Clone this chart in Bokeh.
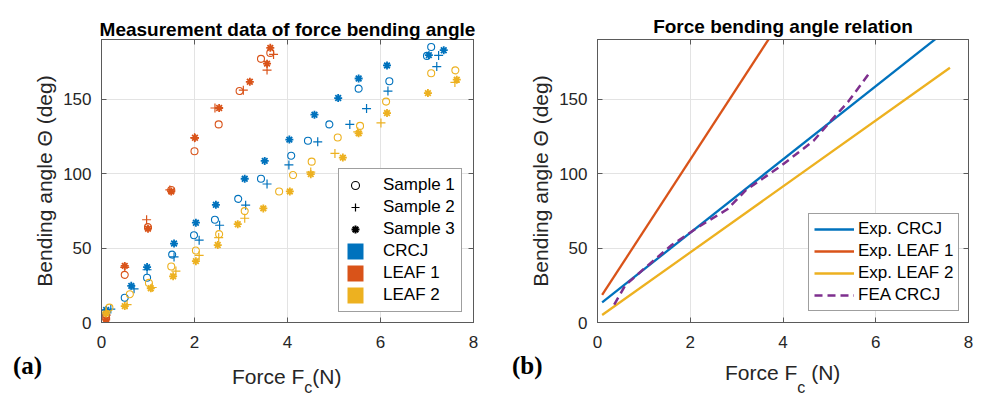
from bokeh.plotting import figure
from bokeh.models import (Range1d, FixedTicker, LinearAxis, Legend, LegendItem, Title, Div)
from bokeh.layouts import row, column
from bokeh.embed import file_html
from bokeh.resources import INLINE

NAN = float("nan")

# ---------------- data: (a) measurement data ----------------
x_ticks = [0, 2, 4, 6, 8]
y_ticks = [0, 50, 100, 150]

crcj_s1_x = [0.1, 0.5, 0.98, 1.52, 1.99, 2.44, 2.94, 3.43, 4.08, 4.44, 4.9, 5.53, 6.19, 7.0, 7.09]
crcj_s1_y = [5, 16.6, 30, 45.6, 58.6, 69, 83, 96.5, 112, 122, 133, 157, 162, 179, 185]
crcj_s2_x = [0.2, 0.7, 0.98, 1.56, 2.1, 2.54, 3.1, 3.56, 4.03, 4.65, 5.34, 5.7, 6.16, 7.21, 7.25]
crcj_s2_y = [9, 22.6, 35.4, 44, 55.3, 65.3, 78.8, 93, 105.8, 121.3, 133, 143.6, 155.4, 171.8, 179.3]
crcj_s3_x = [0.1, 0.64, 0.98, 1.56, 2.03, 2.46, 3.08, 3.51, 4.04, 4.58, 5.09, 5.53, 6.14, 7.04, 7.36]
crcj_s3_y = [8.4, 24.6, 37.2, 53, 67, 79, 96.5, 108.5, 122.8, 139.5, 150.7, 163.8, 172.6, 179.5, 182.8]

leaf1_s1_x = [0.1, 0.5, 1.0, 1.5, 2.0, 2.52, 2.97, 3.43, 3.63]
leaf1_s1_y = [3, 32, 64, 89, 115, 133, 155.4, 177, 181]
leaf1_s2_x = [0.1, 0.5, 0.97, 1.47, 2.0, 2.44, 3.05, 3.56, 3.7]
leaf1_s2_y = [5, 37, 69, 89, 124, 144, 156, 169.5, 180]
leaf1_s3_x = [0.1, 0.5, 1.0, 1.5, 2.01, 2.53, 3.19, 3.56, 3.63]
leaf1_s3_y = [2, 38, 63, 88, 124, 144, 161.6, 173.8, 184.4]

leaf2_s1_x = [0.17, 0.61, 1.02, 1.5, 2.03, 2.53, 3.08, 3.82, 4.12, 4.52, 5.08, 5.56, 6.12, 7.09, 7.61]
leaf2_s1_y = [10, 19, 26.6, 37.6, 48.3, 59.3, 74.8, 88, 99, 108, 124.2, 132, 148.3, 167.3, 169.3]
leaf2_s2_x = [0.1, 0.55, 1.09, 1.6, 2.1, 2.52, 3.08, 4.5, 5.02, 5.51, 6.01, 7.6]
leaf2_s2_y = [7, 12, 23.5, 34.5, 45, 57, 70, 101, 113.5, 128, 134, 161.2]
leaf2_s3_x = [0.1, 0.5, 1.06, 1.54, 2.03, 2.5, 2.93, 3.48, 4.05, 4.5, 5.19, 5.53, 6.14, 7.02, 7.64]
leaf2_s3_y = [6, 11, 23, 31, 41.2, 52, 66, 76.6, 88, 99.6, 110.7, 127, 140.6, 154, 163]

# ---------------- data: (b) fitted relations ----------------
exp_crcj_x = [0.1, 7.6]
exp_crcj_y = [13.5, 198]
exp_leaf1_x = [0.1, 3.75]
exp_leaf1_y = [18.5, 193]
exp_leaf2_x = [0.1, 7.6]
exp_leaf2_y = [5, 171]
fea_crcj_x = [0.36, 0.6, 1.0, 1.6, 2.15, 2.8, 3.2, 3.95, 4.66, 5.02, 5.4, 5.9]
fea_crcj_y = [12, 25, 36, 52, 63.6, 76, 88.8, 105, 122, 135, 148, 169]

# ---------------- texts ----------------
title_a = "Measurement data of force bending angle"
title_b = "Force bending angle relation"
y_label = "Bending angle Θ (deg)"
legend_a = ["Sample 1", "Sample 2", "Sample 3", "CRCJ", "LEAF 1", "LEAF 2"]
legend_b = ["Exp. CRCJ", "Exp. LEAF 1", "Exp. LEAF 2", "FEA CRCJ"]

BLUE, ORANGE, YELLOW, PURPLE = "#0072BD", "#D95319", "#EDB120", "#7E2F8E"
FONT = "Liberation Sans"
AX = "#5a5a5a"
TXT = "#262626"


def style(p, title, title_standoff):
    p.xaxis.ticker = FixedTicker(ticks=x_ticks)
    p.yaxis.ticker = FixedTicker(ticks=y_ticks)
    for ax in p.xaxis + p.yaxis:
        ax.axis_line_color = AX
        ax.major_tick_line_color = AX
        ax.major_tick_in = 5
        ax.major_tick_out = 0
        ax.minor_tick_line_color = None
        ax.major_label_text_font = FONT
        ax.major_label_text_font_size = "17px"
        ax.major_label_text_color = TXT
        ax.axis_label_text_font = FONT
        ax.axis_label_text_font_size = "21px"
        ax.axis_label_text_font_style = "normal"
        ax.axis_label_text_color = TXT
    p.xaxis.major_label_standoff = 13
    p.yaxis.major_label_standoff = 10
    p.yaxis.axis_label = y_label
    p.yaxis.axis_label_standoff = 4
    for side, ticks in (("right", y_ticks), ("above", x_ticks)):
        ax = LinearAxis(ticker=FixedTicker(ticks=ticks),
                        major_label_overrides={t: "" for t in ticks},
                        major_label_text_font_size="1px", major_label_standoff=0,
                        axis_line_color=AX, major_tick_line_color=AX,
                        major_tick_in=5, major_tick_out=0, minor_tick_line_color=None)
        p.add_layout(ax, side)
    p.add_layout(Title(text=title, align="center", text_font=FONT, text_font_size="19px",
                       text_font_style="bold", text_color="black", standoff=title_standoff), "above")
    p.xgrid.grid_line_color = "#e3e3e3"
    p.ygrid.grid_line_color = "#e3e3e3"
    p.outline_line_color = AX
    p.background_fill_color = "white"
    p.border_fill_color = "white"


# ---------------- figure (a) ----------------
p1 = figure(width=500, height=360, x_range=Range1d(0, 8), y_range=Range1d(0, 190),
            output_backend="svg", toolbar_location=None, title=None,
            min_border_left=101, min_border_right=27, min_border_top=39, min_border_bottom=34)
style(p1, title_a, 0)

series = [
    (BLUE, crcj_s1_x, crcj_s1_y, crcj_s2_x, crcj_s2_y, crcj_s3_x, crcj_s3_y),
    (ORANGE, leaf1_s1_x, leaf1_s1_y, leaf1_s2_x, leaf1_s2_y, leaf1_s3_x, leaf1_s3_y),
    (YELLOW, leaf2_s1_x, leaf2_s1_y, leaf2_s2_x, leaf2_s2_y, leaf2_s3_x, leaf2_s3_y),
]
for c, x1, y1, x2, y2, x3, y3 in series:
    p1.scatter(x=x1, y=y1, marker="circle", size=7, line_color=c, fill_color=None, line_width=1.1)
    p1.scatter(x=x2, y=y2, marker="cross", size=9, line_color=c, line_width=1.2)
    p1.scatter(x=x3, y=y3, marker="asterisk", size=8, line_color=c, line_width=1.8)

# legend proxies (NaN -> never drawn in the plot area)
lg_s1 = p1.scatter(x=[NAN], y=[NAN], marker="circle", line_color="black", fill_color=None, line_width=1.1)
lg_s2 = p1.scatter(x=[NAN], y=[NAN], marker="cross", line_color="black", line_width=1.2)
lg_s3 = p1.scatter(x=[NAN], y=[NAN], marker="asterisk", line_color="black", line_width=2)
lg_c = p1.quad(left=[NAN], right=[NAN], top=[NAN], bottom=[NAN], fill_color=BLUE, line_color=None)
lg_l1 = p1.quad(left=[NAN], right=[NAN], top=[NAN], bottom=[NAN], fill_color=ORANGE, line_color=None)
lg_l2 = p1.quad(left=[NAN], right=[NAN], top=[NAN], bottom=[NAN], fill_color=YELLOW, line_color=None)

leg1 = Legend(items=[LegendItem(label=t, renderers=[r]) for t, r in
                     zip(legend_a, [lg_s1, lg_s2, lg_s3, lg_c, lg_l1, lg_l2])],
              location=(237, 10), margin=0, padding=6, spacing=2,
              glyph_width=20, glyph_height=20, label_height=20, label_standoff=18,
              label_text_font=FONT, label_text_font_size="17px", label_text_color="black",
              border_line_color="#404040", border_line_width=1, background_fill_alpha=1)
p1.add_layout(leg1)

# ---------------- figure (b) ----------------
p2 = figure(width=483, height=360, x_range=Range1d(0, 8), y_range=Range1d(0, 190),
            output_backend="svg", toolbar_location=None, title=None,
            min_border_left=97, min_border_right=15, min_border_top=33, min_border_bottom=38)
style(p2, title_b, 6)

r_c = p2.line(exp_crcj_x, exp_crcj_y, line_color=BLUE, line_width=2.3)
r_l1 = p2.line(exp_leaf1_x, exp_leaf1_y, line_color=ORANGE, line_width=2.3)
r_l2 = p2.line(exp_leaf2_x, exp_leaf2_y, line_color=YELLOW, line_width=2.3)
r_f = p2.line(fea_crcj_x, fea_crcj_y, line_color=PURPLE, line_width=2.5, line_dash="8 5")

leg2 = Legend(items=[LegendItem(label=t, renderers=[r]) for t, r in
                     zip(legend_b, [r_c, r_l1, r_l2, r_f])],
              location=(211, 11), margin=0, padding=5, spacing=2,
              glyph_width=40, glyph_height=20, label_height=20, label_standoff=4,
              label_text_font=FONT, label_text_font_size="17px", label_text_color="black",
              border_line_color="#404040", border_line_width=1, background_fill_alpha=1)
p2.add_layout(leg2)

# ---------------- bottom strip: panel tags and x-axis labels with subscript ----------------
html = """
<div style="position:relative;width:983px;height:36px;font-family:'Liberation Sans',sans-serif;color:#262626;">
  <span style="position:absolute;left:13px;top:-7px;font:bold 25px/1 'Liberation Serif',serif;color:#000;white-space:nowrap;">(a)</span>
  <span style="position:absolute;left:232px;top:6px;font-size:21px;line-height:1;white-space:nowrap;">Force F<span style="font-size:16px;position:relative;top:9px;">c</span>(N)</span>
  <span style="position:absolute;left:512px;top:-7px;font:bold 25px/1 'Liberation Serif',serif;color:#000;white-space:nowrap;">(b)</span>
  <span style="position:absolute;left:725px;top:2px;font-size:21px;line-height:1;white-space:nowrap;">Force F<span style="font-size:16px;position:relative;top:13px;">c</span> (N)</span>
</div>
"""
strip = Div(text=html, width=983, height=36, margin=0)

layout = column(row(p1, p2), strip)
open("out.html", "w").write(file_html(layout, INLINE))
